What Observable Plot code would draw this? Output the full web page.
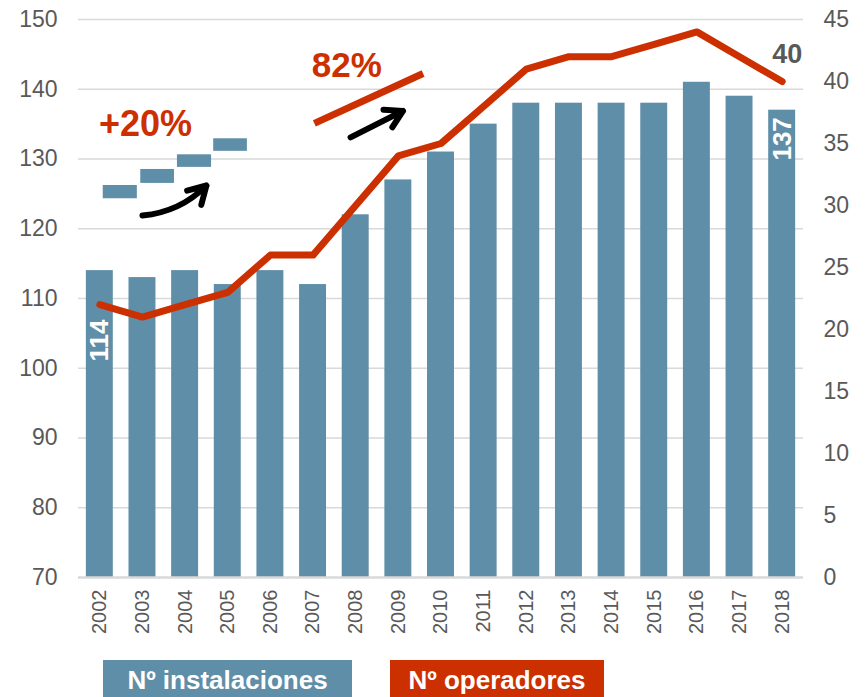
<!DOCTYPE html>
<html>
<head>
<meta charset="utf-8">
<script src="https://cdn.jsdelivr.net/npm/d3@7"></script>
<script src="https://cdn.jsdelivr.net/npm/@observablehq/plot@0.6"></script>
<style>
  html, body { margin: 0; padding: 0; background: #fff; overflow: hidden; }
  #wrap { position: relative; width: 865px; height: 697px; font-family: "Liberation Sans", Arial, sans-serif; }
  .key { position: absolute; top: 660px; height: 40px; color: #fff; font-weight: bold; font-size: 26px;
         display: flex; align-items: center; justify-content: center; }
</style>
</head>
<body>
<div id="wrap"></div>
<script>
// Series by year
const years = [2002, 2003, 2004, 2005, 2006, 2007, 2008, 2009, 2010, 2011, 2012, 2013, 2014, 2015, 2016, 2017, 2018];
const instalaciones = [114, 113, 114, 112, 114, 112, 122, 127, 131, 135, 138, 138, 138, 138, 141, 139, 137];
const operadores = [22, 21, 22, 23, 26, 26, 30, 34, 35, 38, 41, 42, 42, 43, 44, 42, 40];

// Axis ticks
const leftTicks = [70, 80, 90, 100, 110, 120, 130, 140, 150];
const rightTicks = [0, 5, 10, 15, 20, 25, 30, 35, 40, 45];

// Series names
const seriesNames = ["Nº instalaciones", "Nº operadores"];

// Growth annotations (in chart units: year, left-axis value)
const growthLabels = [
  {x: 2003.07, y: 134.9, text: "+20%", size: 36},
  {x: 2007.79, y: 143.4, text: "82%", size: 35}
];
const stepIcon = [
  {x1: 2002.08, x2: 2002.88, y1: 124.3, y2: 126.2},
  {x1: 2002.96, x2: 2003.75, y1: 126.5, y2: 128.5},
  {x1: 2003.82, x2: 2004.62, y1: 128.8, y2: 130.6},
  {x1: 2004.67, x2: 2005.46, y1: 131.1, y2: 132.9}
];
const trendIcon = [{x1: 2007.03, y1: 135.1, x2: 2009.58, y2: 142.25}];
const arrowCurved = [{x1: 2003.0, y1: 121.9, x2: 2004.5, y2: 126.2}];
const arrowStraight = [{x1: 2007.88, y1: 133.1, x2: 2009.11, y2: 136.9}];

const blue = "#5f8ea8";
const red = "#cd3000";
const grey = "#595959";

// Operators share the left scale: 0–45 maps onto 70–150
const toLeft = v => 70 + v * 80 / 45;
const fromLeft = v => Math.round((v - 70) * 45 / 80);

const bars = years.map((year, i) => ({year, value: instalaciones[i]}));
const ops = years.map((year, i) => ({year, value: operadores[i], y: toLeft(operadores[i])}));
const half = 0.316;

const first = bars[0], last = bars[bars.length - 1], lastOp = ops[ops.length - 1];

const chart = Plot.plot({
  width: 865,
  height: 645,
  marginTop: 19,
  marginBottom: 68,
  marginLeft: 78,
  marginRight: 62,
  x: {domain: [2001.5, 2018.5]},
  y: {domain: [70, 150]},
  style: {fontFamily: "'Liberation Sans', Arial, sans-serif", background: "white"},
  marks: [
    Plot.gridY(leftTicks.slice(1), {stroke: "#d9d9d9", strokeOpacity: 1, strokeWidth: 1.5}),
    Plot.rectY(bars, {x1: d => d.year - half, x2: d => d.year + half, y1: 70, y2: "value", fill: blue}),
    Plot.ruleY([70], {stroke: "#d9d9d9", strokeWidth: 2.5}),
    Plot.line(ops, {x: "year", y: "y", stroke: red, strokeWidth: 7, strokeLinejoin: "round", strokeLinecap: "round"}),

    // Axes
    Plot.axisY(leftTicks, {anchor: "left", tickSize: 0, tickPadding: 21, fontSize: 23, color: grey, label: null}),
    Plot.axisY(rightTicks.map(toLeft), {anchor: "right", tickSize: 0, tickPadding: 20, fontSize: 23, color: grey,
      label: null, tickFormat: fromLeft}),
    Plot.axisX(years, {anchor: "bottom", tickSize: 0, tickPadding: 12, tickRotate: -90, fontSize: 20, color: grey,
      label: null, tickFormat: d => String(d)}),

    // Value labels
    Plot.text([first], {x: "year", y: "value", text: d => String(d.value), rotate: -90, textAnchor: "end",
      dy: 49, fill: "white", fontWeight: "bold", fontSize: 26}),
    Plot.text([last], {x: "year", y: "value", text: d => String(d.value), rotate: -90, textAnchor: "end",
      dy: 7, fill: "white", fontWeight: "bold", fontSize: 26}),
    Plot.text([lastOp], {x: "year", y: "y", text: d => String(d.value), dx: 5, dy: -27,
      fill: grey, fontWeight: "bold", fontSize: 27}),

    // Growth annotations
    Plot.rect(stepIcon, {x1: "x1", x2: "x2", y1: "y1", y2: "y2", fill: blue}),
    Plot.link(trendIcon, {x1: "x1", y1: "y1", x2: "x2", y2: "y2", stroke: red, strokeWidth: 7}),
    Plot.arrow(arrowCurved, {x1: "x1", y1: "y1", x2: "x2", y2: "y2", bend: -20, stroke: "black", strokeWidth: 6, headLength: 5}),
    Plot.arrow(arrowStraight, {x1: "x1", y1: "y1", x2: "x2", y2: "y2", stroke: "black", strokeWidth: 6, headLength: 5}),
    Plot.text(growthLabels.slice(0, 1), {x: "x", y: "y", text: "text", fill: red, fontWeight: "bold", fontSize: growthLabels[0].size}),
    Plot.text(growthLabels.slice(1), {x: "x", y: "y", text: "text", fill: red, fontWeight: "bold", fontSize: growthLabels[1].size})
  ]
});

const wrap = document.getElementById("wrap");
wrap.appendChild(chart);

// Legend boxes below the chart
const keys = [
  {name: seriesNames[0], color: blue, left: 103, width: 249},
  {name: seriesNames[1], color: red, left: 390, width: 214}
];
for (const k of keys) {
  const el = document.createElement("div");
  el.className = "key";
  el.style.left = k.left + "px";
  el.style.width = k.width + "px";
  el.style.background = k.color;
  el.textContent = k.name;
  wrap.appendChild(el);
}
</script>
</body>
</html>
